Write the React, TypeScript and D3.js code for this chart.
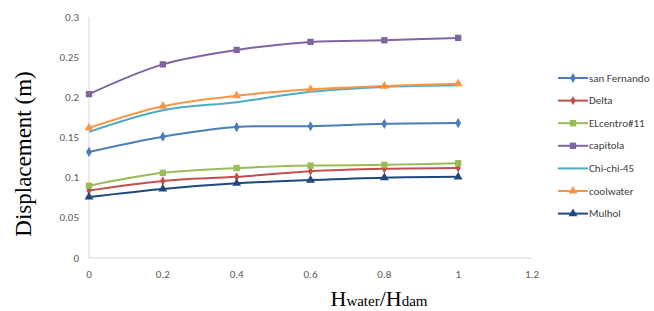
import * as d3 from "d3";

const ratios = [0, 0.2, 0.4, 0.6, 0.8, 1];
const xTicks = [0, 0.2, 0.4, 0.6, 0.8, 1, 1.2];
const yTicks = [0, 0.05, 0.1, 0.15, 0.2, 0.25, 0.3];

const sanFernando = [0.132, 0.151, 0.163, 0.164, 0.167, 0.168];
const delta = [0.084, 0.096, 0.101, 0.108, 0.111, 0.112];
const elCentro = [0.09, 0.106, 0.112, 0.115, 0.116, 0.118];
const capitola = [0.204, 0.241, 0.259, 0.269, 0.271, 0.274];
const chiChi = [0.157, 0.184, 0.194, 0.207, 0.213, 0.215];
const coolwater = [0.162, 0.189, 0.202, 0.21, 0.214, 0.217];
const mulhol = [0.076, 0.086, 0.093, 0.097, 0.1, 0.101];

type Marker = "diamond" | "square" | "triangle" | "none";

const series: { name: string; values: number[]; color: string; marker: Marker; size: number }[] = [
  { name: "san Fernando", values: sanFernando, color: "#4a7ebb", marker: "diamond", size: 30 },
  { name: "Delta", values: delta, color: "#c0504d", marker: "diamond", size: 24 },
  { name: "ELcentro#11", values: elCentro, color: "#9bbb59", marker: "square", size: 40 },
  { name: "capitola", values: capitola, color: "#8064a2", marker: "square", size: 40 },
  { name: "Chi-chi-45", values: chiChi, color: "#4bacc6", marker: "none", size: 0 },
  { name: "coolwater", values: coolwater, color: "#f79646", marker: "triangle", size: 34 },
  { name: "Mulhol", values: mulhol, color: "#1f497d", marker: "triangle", size: 34 },
];

const symbolFor = (m: Marker) =>
  m === "diamond" ? d3.symbolDiamond : m === "square" ? d3.symbolSquare : d3.symbolTriangle;

export default function App() {
  const width = 654;
  const height = 311;
  const x = d3.scaleLinear().domain([0, 1.2]).range([89, 532]);
  const y = d3.scaleLinear().domain([0, 0.3]).range([258, 17]);

  const line = d3
    .line<number>()
    .x((_, i) => x(ratios[i]))
    .y((d) => y(d))
    .curve(d3.curveCatmullRom.alpha(0.5));

  return (
    <svg
      width={width}
      height={height}
      style={{ position: "absolute", left: 0, top: 0, background: "#fff" }}
      fontFamily="Calibri, Carlito, 'Liberation Sans', Arial, sans-serif"
    >
      {/* axes */}
      <line x1={x(0)} x2={x(0)} y1={y(0.3)} y2={y(0)} stroke="#d9d9d9" strokeWidth={1} />
      <line x1={x(0)} x2={x(1.2)} y1={y(0)} y2={y(0)} stroke="#d9d9d9" strokeWidth={1} />

      {yTicks.map((t) => (
        <text key={`y-${t}`} x={79} y={y(t)} textAnchor="end" dominantBaseline="central" fontSize={11} fill="#595959">
          {t}
        </text>
      ))}
      {xTicks.map((t) => (
        <text key={`x-${t}`} x={x(t)} y={274} textAnchor="middle" dominantBaseline="central" fontSize={11} fill="#595959">
          {t}
        </text>
      ))}

      {/* series */}
      {series.map((s) => (
        <g key={s.name}>
          <path d={line(s.values) || ""} fill="none" stroke={s.color} strokeWidth={2} />
          {s.marker !== "none" &&
            s.values.map((v, i) => (
              <path
                key={i}
                transform={`translate(${x(ratios[i])},${y(v)})`}
                d={d3.symbol(symbolFor(s.marker), s.size)() || ""}
                fill={s.color}
              />
            ))}
        </g>
      ))}

      {/* legend */}
      {series.map((s, i) => {
        const ly = 78 + i * 22.6;
        return (
          <g key={`leg-${s.name}`}>
            <line x1={558} x2={588} y1={ly} y2={ly} stroke={s.color} strokeWidth={2} />
            {s.marker !== "none" && (
              <path
                transform={`translate(573,${ly})`}
                d={d3.symbol(symbolFor(s.marker), s.size)() || ""}
                fill={s.color}
              />
            )}
            <text x={589} y={ly} dominantBaseline="central" fontSize={11} fill="#404040">
              {s.name}
            </text>
          </g>
        );
      })}

      {/* titles */}
      <text
        transform="translate(23,154) rotate(-90)"
        textAnchor="middle"
        dominantBaseline="central"
        fontFamily="'Liberation Serif', 'Times New Roman', serif"
        fontSize={23}
        fill="#000"
      >
        Displacement (m)
      </text>
      <text
        x={379}
        y={306}
        textAnchor="middle"
        fontFamily="'Liberation Serif', 'Times New Roman', serif"
        fontSize={22}
        fill="#000"
      >
        H<tspan fontSize={15}>water</tspan>/H<tspan fontSize={15}>dam</tspan>
      </text>
    </svg>
  );
}
